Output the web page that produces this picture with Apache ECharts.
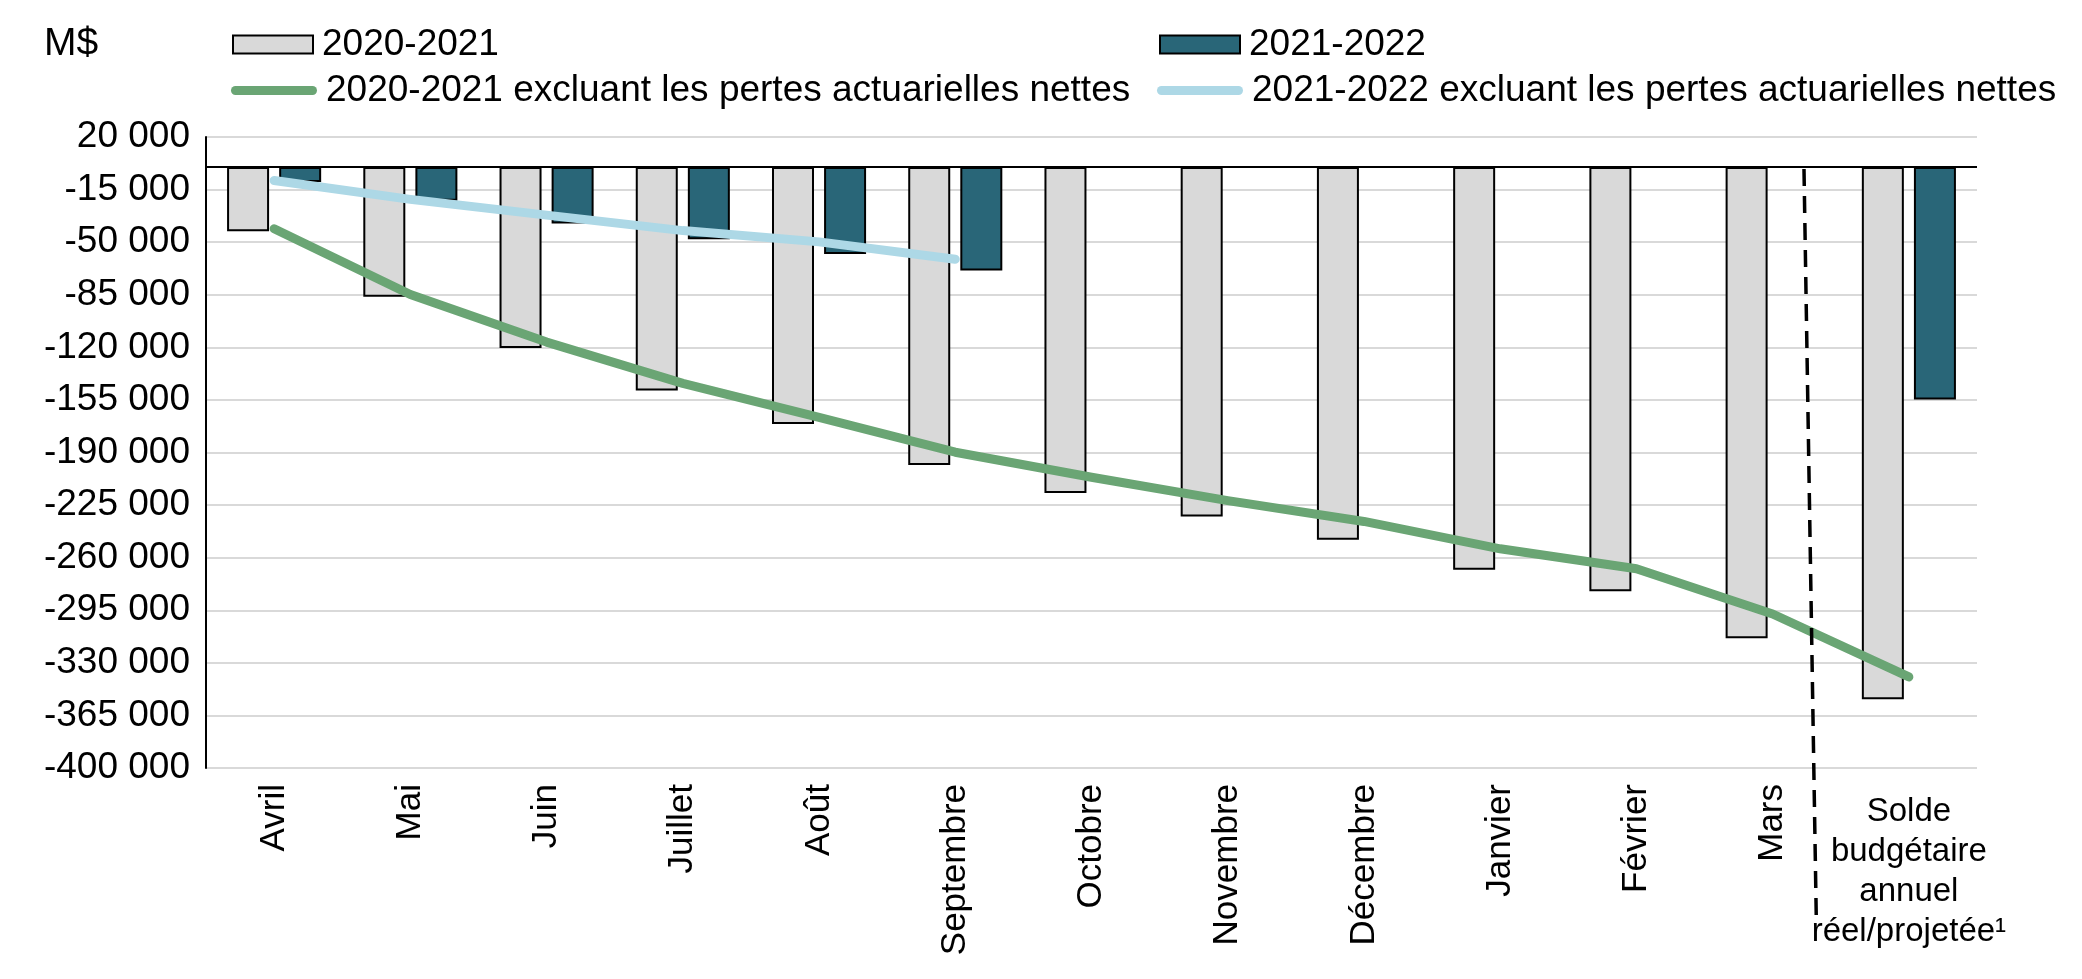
<!DOCTYPE html>
<html>
<head>
<meta charset="utf-8">
<script src="https://cdn.jsdelivr.net/npm/echarts@6/dist/echarts.min.js"></script>
<style>
html,body{margin:0;padding:0;background:#fff;}
#c{width:2082px;height:979px;}
</style>
</head>
<body>
<div id="c"></div>
<script>
const categories = ['Avril','Mai','Juin','Juillet','Août','Septembre','Octobre','Novembre','Décembre','Janvier','Février','Mars','Solde budgétaire annuel réel/projetée¹'];
const lastLabel = 'Solde\nbudgétaire\nannuel\nréel/projetée¹';
const bars2020 = [-42700, -86300, -120400, -148800, -171000, -198300, -216900, -232600, -248000, -268000, -282400, -313700, -354200];
const bars2021 = [-9900, -22400, -37500, -48000, -57800, -68900, null, null, null, null, null, null, -154700];
const line2020 = [-41100, -84800, -116500, -144000, -166600, -189800, -206500, -222000, -235900, -254100, -267400, -297500, -339400];
const line2021 = [-9000, -21500, -32000, -42300, -49800, -61400];
const yTicks = [20000, -15000, -50000, -85000, -120000, -155000, -190000, -225000, -260000, -295000, -330000, -365000, -400000];
const names = ['2020-2021', '2021-2022', '2020-2021 excluant les pertes actuarielles nettes', '2021-2022 excluant les pertes actuarielles nettes'];

const FONT = 'Liberation Sans, Arial, sans-serif';
const fmt = v => {
  const s = Math.abs(v).toString().replace(/\B(?=(\d{3})+(?!\d))/g, ' ');
  return (v < 0 ? '-' : '') + s;
};
const linePath = 'path://M4.5,0 H81.5 A4.5,4.5 0 0 1 81.5,9 H4.5 A4.5,4.5 0 0 1 4.5,0 Z';
const legendText = {color: '#000', fontSize: 37, fontFamily: FONT, lineHeight: 37, padding: [0, 0, 0, 4]};

const chart = echarts.init(document.getElementById('c'), null, {renderer: 'canvas'});
chart.setOption({
  animation: false,
  backgroundColor: '#fff',
  title: {text: 'M$', left: 39, top: 20, textStyle: {fontSize: 39, fontWeight: 'normal', fontFamily: FONT, color: '#000'}},
  legend: [
    {data: [names[0]], left: 227, top: 21, icon: 'rect', itemWidth: 80, itemHeight: 18, textStyle: legendText, selectedMode: false},
    {data: [names[1]], left: 1154, top: 21, icon: 'rect', itemWidth: 80, itemHeight: 18, textStyle: legendText, selectedMode: false},
    {data: [{name: names[2], icon: linePath, itemStyle: {color: '#6AA574', borderWidth: 0}}], left: 226, top: 67, itemWidth: 86, itemHeight: 9, textStyle: legendText, selectedMode: false},
    {data: [{name: names[3], icon: linePath, itemStyle: {color: '#ADD8E6', borderWidth: 0}}], left: 1152, top: 67, itemWidth: 86, itemHeight: 9, textStyle: legendText, selectedMode: false}
  ],
  grid: {left: 206, right: 105, top: 137, bottom: 211, containLabel: false},
  xAxis: [
    {
      type: 'category', data: categories, position: 'bottom',
      axisLine: {show: false}, axisTick: {show: false}, splitLine: {show: false},
      axisLabel: {
        interval: 0, rotate: 90, margin: 16, color: '#000', fontSize: 35, fontFamily: FONT,
        formatter: (v, i) => (i === categories.length - 1 ? '' : v)
      }
    },
    {
      type: 'category', data: categories, position: 'bottom',
      axisLine: {show: false}, axisTick: {show: false}, splitLine: {show: false},
      axisLabel: {
        interval: 0, rotate: 0, margin: 24, color: '#000', fontSize: 33, fontFamily: FONT, lineHeight: 40, align: 'center',
        formatter: (v, i) => (i === categories.length - 1 ? lastLabel : '')
      }
    }
  ],
  yAxis: {
    type: 'value', min: -400000, max: 20000, interval: 35000,
    axisLine: {show: true, lineStyle: {color: '#000', width: 2}},
    axisTick: {show: false, customValues: yTicks},
    splitLine: {show: true, lineStyle: {color: '#D9D9D9', width: 2}},
    axisLabel: {customValues: yTicks, color: '#000', fontSize: 37, fontFamily: FONT, margin: 16, formatter: fmt}
  },
  series: [
    {
      name: names[0], type: 'bar', data: bars2020, barWidth: 42, barGap: '24%',
      itemStyle: {color: '#D9D9D9', borderColor: '#000', borderWidth: 2},
      markLine: {silent: true, symbol: 'none', label: {show: false},
        lineStyle: {color: '#000', width: 2, type: 'solid'}, data: [{yAxis: 0}]}
    },
    {
      name: names[1], type: 'bar', data: bars2021, barWidth: 42,
      itemStyle: {color: '#296678', borderColor: '#000', borderWidth: 2}
    },
    {
      name: names[2], type: 'line', data: line2020, symbol: 'none', z: 5,
      lineStyle: {color: '#6AA574', width: 9, cap: 'round', join: 'round'},
      itemStyle: {color: '#6AA574'}
    },
    {
      name: names[3], type: 'line', data: line2021, symbol: 'none', z: 5,
      lineStyle: {color: '#ADD8E6', width: 9, cap: 'round', join: 'round'},
      itemStyle: {color: '#ADD8E6'}
    }
  ]
});

// dashed separator between "Mars" and the annual balance category
const pMars = chart.convertToPixel({gridIndex: 0}, [categories.length - 2, 0]);
const pLast = chart.convertToPixel({gridIndex: 0}, [categories.length - 1, -400000]);
const w = pLast[0] - pMars[0];
chart.setOption({
  graphic: [{
    type: 'line', silent: true, z: 10,
    shape: {x1: pMars[0] + 0.23 * w, y1: pMars[1] + 2, x2: pMars[0] + 0.32 * w, y2: pLast[1] + 148},
    style: {stroke: '#000', lineWidth: 3.5, lineDash: [17, 10]}
  }]
});
</script>
</body>
</html>
